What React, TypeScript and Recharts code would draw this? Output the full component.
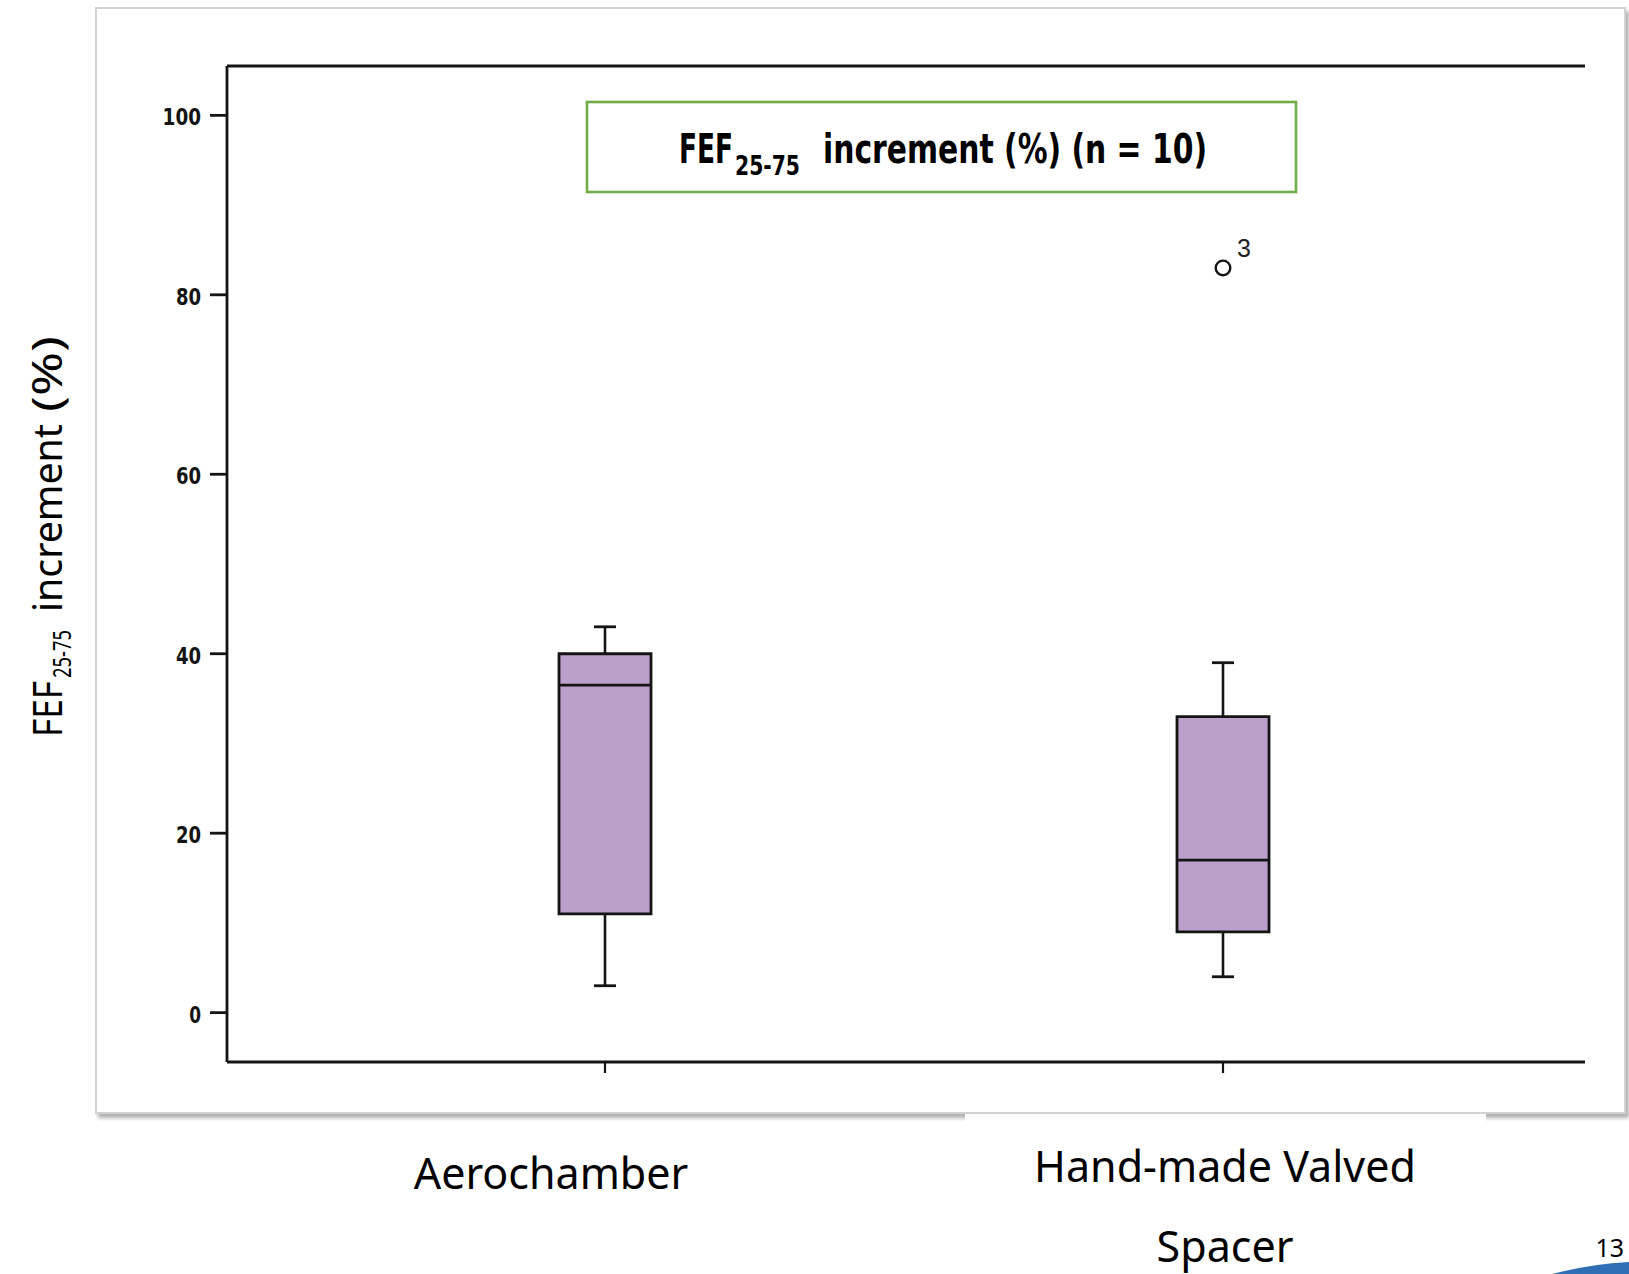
import { ComposedChart, Bar, Scatter, XAxis, YAxis, ReferenceLine } from 'recharts';

// box plot values
const categories = ['Aerochamber', 'Hand-made Valved Spacer'];
const whiskerLow = [3, 4];
const quartile1 = [11, 9];
const medians = [36.5, 17];
const quartile3 = [40, 33];
const whiskerHigh = [43, 39];
const outlierValues: (number | null)[] = [null, 83];
const outlierCases: (string | null)[] = [null, '3'];
const yTicks = [0, 20, 40, 60, 80, 100];

const data = categories.map((name, i) => ({
  name,
  whisker: [whiskerLow[i], whiskerHigh[i]],
  box: [quartile1[i], quartile3[i]],
  median: medians[i],
  outlier: outlierValues[i],
  caseId: outlierCases[i],
}));

const INK = '#141414';
const BOX_FILL = '#BBA0CB';
const BOX_W = 92;
const CAP_HALF = 11;
const TICK_FONT = "'Liberation Sans Narrow', 'DejaVu Sans Condensed', 'Liberation Sans', sans-serif";
const LABEL_FONT = "'Noto Sans', 'Open Sans', sans-serif";
const TITLE_FONT = "'Liberation Sans Narrow', 'DejaVu Sans Condensed', 'Liberation Sans', sans-serif";

function WhiskerShape(props: any) {
  const { x, y, width, height } = props;
  const top = Math.min(y, y + height);
  const bottom = Math.max(y, y + height);
  const cx = x + width / 2;
  return (
    <g stroke={INK}>
      <line x1={cx} x2={cx} y1={top} y2={bottom} strokeWidth={2.6} />
      <line x1={cx - CAP_HALF} x2={cx + CAP_HALF} y1={top} y2={top} strokeWidth={2.8} />
      <line x1={cx - CAP_HALF} x2={cx + CAP_HALF} y1={bottom} y2={bottom} strokeWidth={2.8} />
    </g>
  );
}

function MedianShape(props: any) {
  const { cx, cy } = props;
  if (cx == null || cy == null || Number.isNaN(cy)) return <g />;
  return <line x1={cx - BOX_W / 2} x2={cx + BOX_W / 2} y1={cy} y2={cy} stroke={INK} strokeWidth={2.8} />;
}

function OutlierShape(props: any) {
  const { cx, cy, payload } = props;
  if (!payload || payload.outlier == null || cy == null || Number.isNaN(cy)) return <g />;
  return (
    <g>
      <circle cx={cx} cy={cy} r={7.3} fill="#fff" stroke={INK} strokeWidth={2.4} />
      <text x={cx + 14} y={cy - 11} fontSize={25} fontFamily="'Liberation Sans', Arial, sans-serif" fill="#222">
        {payload.caseId}
      </text>
    </g>
  );
}

function YTick(props: any) {
  const { x, y, payload } = props;
  const label = String(payload.value);
  return (
    <text
      x={x}
      y={y + 10}
      textAnchor="end"
      fontSize={23}
      fontWeight={700}
      fontFamily={TICK_FONT}
      textLength={label.length * 13.3 - 1.5}
      lengthAdjust="spacingAndGlyphs"
      fill={INK}
    >
      {label}
    </text>
  );
}

export default function App() {
  return (
    <div
      style={{
        position: 'absolute',
        left: 0,
        top: 0,
        width: 1629,
        height: 1274,
        background: '#fff',
        overflow: 'hidden',
      }}
    >
      {/* picture frame */}
      <div
        style={{
          position: 'absolute',
          left: 95,
          top: 7,
          width: 1527,
          height: 1103,
          border: '2px solid #d2d2d2',
          boxShadow: '3px 4px 4px rgba(0,0,0,0.32)',
          background: '#fff',
        }}
      />

      <div style={{ position: 'absolute', left: 0, top: 0 }}>
        <ComposedChart
          width={1629}
          height={1120}
          data={data}
          margin={{ top: 66, right: 44, bottom: 28, left: 0 }}
          barGap={-BOX_W}
        >
          <XAxis
            dataKey="name"
            type="category"
            allowDuplicatedCategory={false}
            padding={{ left: 69, right: 53 }}
            height={30}
            tickSize={11}
            tick={() => <g />}
            axisLine={{ stroke: INK, strokeWidth: 2.8 }}
            tickLine={{ stroke: INK, strokeWidth: 2.2 }}
          />
          <YAxis
            type="number"
            domain={[-5.5, 105.5]}
            allowDataOverflow
            ticks={yTicks}
            interval={0}
            width={227}
            tickSize={17}
            tickMargin={9}
            tick={<YTick />}
            axisLine={{ stroke: INK, strokeWidth: 2.8 }}
            tickLine={{ stroke: INK, strokeWidth: 2.8 }}
          />
          <ReferenceLine y={105.5} stroke={INK} strokeWidth={2.8} />
          <Bar dataKey="whisker" barSize={BOX_W} shape={<WhiskerShape />} isAnimationActive={false} />
          <Bar
            dataKey="box"
            barSize={BOX_W}
            fill={BOX_FILL}
            stroke={INK}
            strokeWidth={2.8}
            isAnimationActive={false}
          />
          <Scatter dataKey="median" shape={<MedianShape />} isAnimationActive={false} />
          <Scatter dataKey="outlier" shape={<OutlierShape />} isAnimationActive={false} />
        </ComposedChart>
      </div>

      {/* slide texts laid over the picture */}
      <svg
        width={1629}
        height={1274}
        style={{ position: 'absolute', left: 0, top: 0, pointerEvents: 'none' }}
      >
        <rect x={587} y={102} width={709} height={90} fill="#fff" stroke="#70AD47" strokeWidth={2.6} />
        <text fontFamily={TITLE_FONT} fontWeight={700} fill="#000">
          <tspan x={679} y={163} fontSize={40} textLength={54} lengthAdjust="spacingAndGlyphs">
            FEF
          </tspan>
          <tspan x={735} y={175} fontSize={27} textLength={65} lengthAdjust="spacingAndGlyphs">
            25-75
          </tspan>
          <tspan x={823} y={163} fontSize={40} textLength={384} lengthAdjust="spacingAndGlyphs">
            increment (%) (n = 10)
          </tspan>
        </text>

        <text transform="translate(62 737) rotate(-90)" fontFamily={LABEL_FONT} fill="#000">
          <tspan x={0} y={0} fontSize={40} textLength={56} lengthAdjust="spacingAndGlyphs">
            FEF
          </tspan>
          <tspan x={59} y={9} fontSize={25} textLength={48} lengthAdjust="spacingAndGlyphs">
            25-75
          </tspan>
          <tspan x={125} y={0} fontSize={40} textLength={188} lengthAdjust="spacingAndGlyphs">
            increment
          </tspan>
          <tspan x={325} y={0} fontSize={42} textLength={76} lengthAdjust="spacingAndGlyphs">
            (%)
          </tspan>
        </text>

        {/* white text box that clips the frame shadow */}
        <rect x={965} y={1114} width={521} height={160} fill="#fff" />

        <g fontFamily={LABEL_FONT} fontSize={43} fill="#000" textAnchor="middle">
          <text x={551} y={1189}>Aerochamber</text>
          <text x={1225} y={1182}>Hand-made Valved</text>
          <text x={1225} y={1262}>Spacer</text>
        </g>

        <text x={1624} y={1257} fontFamily={LABEL_FONT} fontSize={25} textAnchor="end" fill="#000">
          13
        </text>
        <path d="M1552 1274 Q1590 1264 1629 1262 L1629 1274 Z" fill="#2F6DB5" />
      </svg>
    </div>
  );
}
